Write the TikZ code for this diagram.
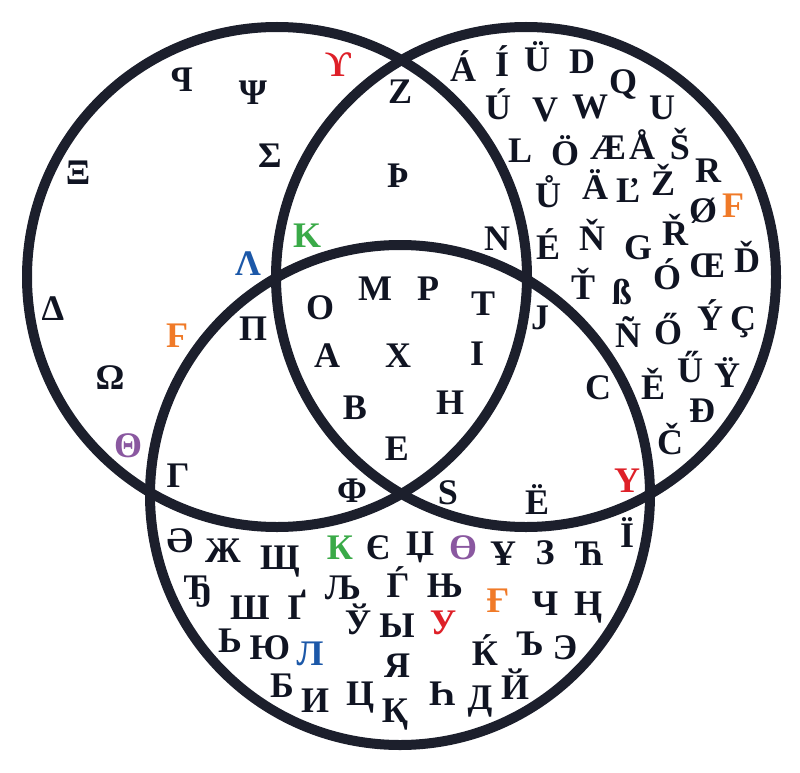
\documentclass[tikz,border=0pt]{standalone}
\usepackage{fontspec}
\setmainfont{Liberation Serif}
\definecolor{ink}{RGB}{16,20,34}
\definecolor{ringc}{RGB}{28,31,44}
\definecolor{lred}{RGB}{222,32,40}
\definecolor{lgreen}{RGB}{58,170,72}
\definecolor{lblue}{RGB}{28,88,168}
\definecolor{lpurple}{RGB}{138,88,160}
\definecolor{lorange}{RGB}{240,122,40}
\begin{document}
\begin{tikzpicture}[x=1pt,y=-1pt,
  ring/.style={draw=ringc, line width=10pt, circle, minimum size=500pt, inner sep=0pt},
  lt/.style={font=\fontsize{36}{36}\selectfont\bfseries, inner sep=0pt, text height=24pt, text depth=0pt, text=ink},
  red/.style={lt, text=lred},
  grn/.style={lt, text=lgreen},
  blu/.style={lt, text=lblue},
  pur/.style={lt, text=lpurple},
  org/.style={lt, text=lorange}]
\useasboundingbox (0,0) rectangle (800,773);
\node[ring] (greek) at (277,277) {};
\node[ring] (latin) at (526,277) {};
\node[ring] (cyril) at (400,495) {};
% Greek only
\node[lt] (gq) at (182,80) {\reflectbox{P}};
\node[lt] (gpsi) at (253,93) {Ψ};
\node[red] (gups) at (338,65) {ϒ};
\node[lt] (gxi) at (78,172) {Ξ};
\node[lt] (gsig) at (270,155) {Σ};
\node[blu] (glam) at (248,263) {Λ};
\node[lt] (gdel) at (53,308) {Δ};
\node[org] (gdig) at (177,335) {Ϝ};
\node[lt] (gome) at (110,377) {Ω};
\node[pur] (gthe) at (128,445) {Θ};
% Greek and Cyrillic
\node[lt] (gcpi) at (253,328) {Π};
\node[lt] (gcgam) at (178,475) {Γ};
\node[lt] (gcphi) at (352,490) {Φ};
% Greek and Latin
\node[lt] (glz) at (400,92) {Z};
\node[lt] (glth) at (398,175) {Þ};
\node[grn] (glk) at (307,235) {K};
\node[lt] (gln) at (497,238) {N};
% all three
\node[lt] (am) at (375,288) {M};
\node[lt] (ap) at (428,288) {P};
\node[lt] (ao) at (320,307) {O};
\node[lt] (at) at (483,303) {T};
\node[lt] (aa) at (327,355) {A};
\node[lt] (ax) at (398,355) {X};
\node[lt] (ai) at (477,353) {I};
\node[lt] (ab) at (355,407) {B};
\node[lt] (ah) at (450,402) {H};
\node[lt] (ae) at (397,448) {E};
% Latin and Cyrillic
\node[lt] (lcs) at (448,492) {S};
\node[lt] (lcj) at (540,317) {J};
\node[lt] (lcc) at (598,387) {C};
\node[lt] (lce) at (537,502) {Ë};
\node[red] (lcy) at (627,480) {Y};
% Latin only
\node[lt] (l1) at (463,70) {Á};
\node[lt] (l2) at (502,65) {Í};
\node[lt] (l3) at (537,60) {Ü};
\node[lt] (l4) at (582,62) {D};
\node[lt] (l5) at (623,82) {Q};
\node[lt] (l6) at (498,108) {Ú};
\node[lt] (l7) at (545,110) {V};
\node[lt] (l8) at (590,107) {W};
\node[lt] (l9) at (662,108) {U};
\node[lt] (l10) at (520,150) {L};
\node[lt] (l11) at (565,153) {Ö};
\node[lt] (l12) at (608,147) {Æ};
\node[lt] (l13) at (642,147) {Å};
\node[lt] (l14) at (680,147) {Š};
\node[lt] (l15) at (708,170) {R};
\node[lt] (l16) at (548,195) {Ů};
\node[lt] (l17) at (595,187) {Ä};
\node[lt] (l18) at (628,190) {Ľ};
\node[lt] (l19) at (663,183) {Ž};
\node[lt] (l20) at (703,210) {Ø};
\node[org] (l21) at (733,205) {F};
\node[lt] (l22) at (548,247) {É};
\node[lt] (l23) at (592,238) {Ň};
\node[lt] (l24) at (638,247) {G};
\node[lt] (l25) at (675,233) {Ř};
\node[lt] (l26) at (707,265) {Œ};
\node[lt] (l27) at (747,260) {Ď};
\node[lt] (l28) at (583,287) {Ť};
\node[lt] (l29) at (622,292) {ß};
\node[lt] (l30) at (667,277) {Ó};
\node[lt] (l31) at (628,335) {Ñ};
\node[lt] (l32) at (668,332) {Ő};
\node[lt] (l33) at (710,318) {Ý};
\node[lt] (l34) at (743,318) {Ç};
\node[lt] (l35) at (690,370) {Ű};
\node[lt] (l36) at (727,375) {Ÿ};
\node[lt] (l37) at (653,387) {Ě};
\node[lt] (l38) at (702,410) {Đ};
\node[lt] (l39) at (670,442) {Č};
% Cyrillic only
\node[lt] (c1) at (180,540) {Ә};
\node[lt] (c2) at (223,550) {Ж};
\node[lt] (c3) at (280,557) {Щ};
\node[grn] (c4) at (340,547) {К};
\node[lt] (c5) at (378,547) {Є};
\node[lt] (c6) at (420,543) {Џ};
\node[pur] (c7) at (463,547) {Ө};
\node[lt] (c8) at (503,553) {Ұ};
\node[lt] (c9) at (545,552) {З};
\node[lt] (c10) at (590,553) {Ћ};
\node[lt] (c11) at (627,535) {Ї};
\node[lt] (c12) at (198,587) {Ђ};
\node[lt] (c13) at (250,607) {Ш};
\node[lt] (c14) at (297,607) {Ґ};
\node[lt] (c15) at (343,587) {Љ};
\node[lt] (c16) at (398,585) {Ѓ};
\node[lt] (c17) at (445,585) {Њ};
\node[org] (c18) at (498,600) {Ғ};
\node[lt] (c19) at (545,603) {Ч};
\node[lt] (c20) at (588,603) {Ң};
\node[lt] (c21) at (358,622) {Ў};
\node[lt] (c22) at (397,625) {Ы};
\node[red] (c23) at (443,622) {У};
\node[lt] (c24) at (230,640) {Ь};
\node[lt] (c25) at (270,647) {Ю};
\node[blu] (c26) at (310,653) {Л};
\node[lt] (c27) at (397,665) {Я};
\node[lt] (c28) at (485,653) {Ќ};
\node[lt] (c29) at (530,643) {Ъ};
\node[lt] (c30) at (565,647) {Э};
\node[lt] (c31) at (282,685) {Б};
\node[lt] (c32) at (315,700) {И};
\node[lt] (c33) at (360,693) {Ц};
\node[lt] (c34) at (395,710) {Қ};
\node[lt] (c35) at (442,693) {Һ};
\node[lt] (c36) at (480,697) {Д};
\node[lt] (c37) at (515,687) {Й};
\end{tikzpicture}
\end{document}
